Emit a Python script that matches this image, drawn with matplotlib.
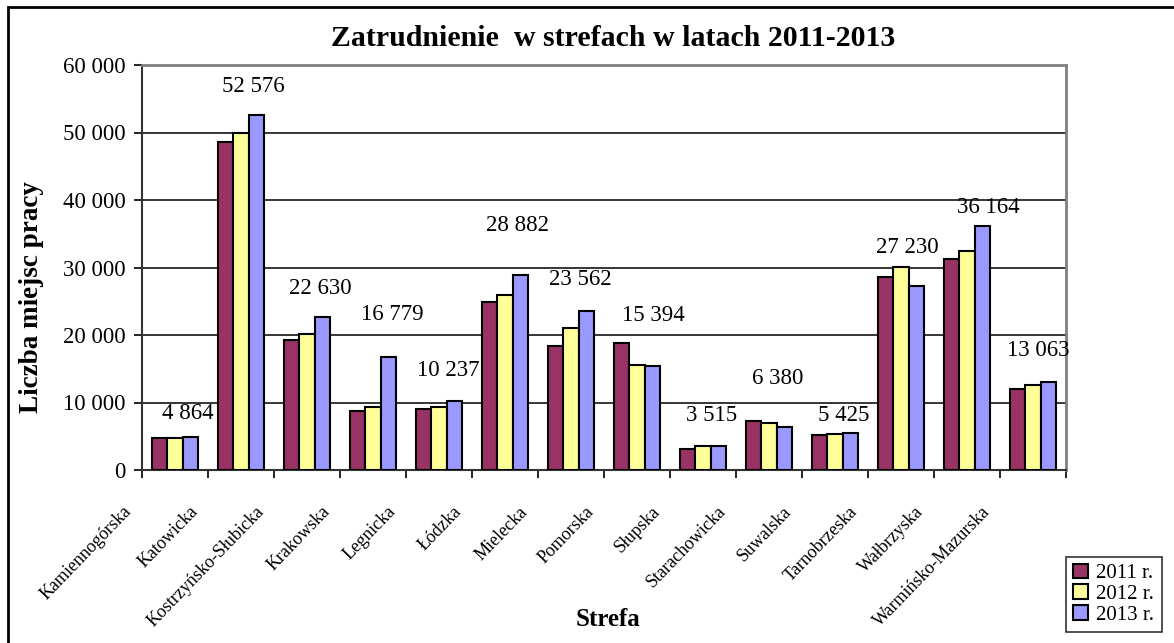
import numpy as np
import matplotlib
matplotlib.use("Agg")
import matplotlib.pyplot as plt
from matplotlib.ticker import FuncFormatter, FixedLocator
import matplotlib.transforms as mtransforms

plt.rcParams['font.family'] = ['Liberation Serif', 'DejaVu Serif']

strefy = ["Kamiennogórska", "Katowicka", "Kostrzyńsko-Słubicka", "Krakowska",
          "Legnicka", "Łódzka", "Mielecka", "Pomorska", "Słupska",
          "Starachowicka", "Suwalska", "Tarnobrzeska", "Wałbrzyska",
          "Warmińsko-Mazurska"]
y2011 = [4700, 48600, 19300, 8800, 9100, 24850, 18300, 18870, 3150, 7290,
         5250, 28620, 31280, 12070]
y2012 = [4750, 50000, 20100, 9400, 9400, 26000, 21000, 15570, 3550, 7000,
         5300, 30100, 32460, 12610]
y2013 = [4864, 52576, 22630, 16779, 10237, 28882, 23562, 15394, 3515, 6380,
         5425, 27230, 36164, 13063]
lata = ["2011 r.", "2012 r.", "2013 r."]
kolory = ["#993366", "#FFFF99", "#9999FF"]

# label offsets (pixels) as placed in the original chart
label_dx = [13, 12, 13, 19, 9, 12, 9, 16, 9, 9, 9, 6, 21, 5]
label_dy = [24, 29, 29, 42, 30, 50, 31, 51, 31, 48, 18, 39, 18, 31]

fig = plt.figure(figsize=(11.74, 6.43), dpi=100)
ax = fig.add_axes([142 / 1174, 1 - 470 / 643, 924 / 1174, 405 / 643])

x = np.arange(len(strefy))
w = 0.235
for i, (vals, c, lab) in enumerate(zip([y2011, y2012, y2013], kolory, lata)):
    ax.bar(x + (i - 1) * w, vals, w, color=c, edgecolor="black",
           linewidth=1.5, label=lab, zorder=3)

for xi, v, dx, dy in zip(x, y2013, label_dx, label_dy):
    ax.annotate(f"{v:,}".replace(",", " "), (xi, v), xytext=(dx, dy),
                textcoords="offset pixels", ha="center", va="center",
                fontsize=16.5, zorder=4)

ax.set_xlim(-0.5, len(strefy) - 0.5)
ax.set_ylim(0, 60000)
ax.set_yticks(np.arange(0, 60001, 10000))
ax.yaxis.set_major_formatter(FuncFormatter(lambda v, p: f"{int(v):,}".replace(",", " ")))
ax.tick_params(axis="y", labelsize=16.5, length=6, width=1.2, direction="out", pad=6)
ax.grid(axis="y", color="black", linewidth=1.1, zorder=0)

ax.set_xticks(x)
ax.set_xticklabels(strefy, rotation=46, ha="right", va="center",
                   rotation_mode="anchor", fontsize=13)
ax.xaxis.set_minor_locator(FixedLocator(np.arange(-0.5, len(strefy), 1)))
ax.tick_params(axis="x", which="major", length=0, pad=0)
ax.tick_params(axis="x", which="minor", length=6, width=1.2, direction="out")
off = mtransforms.ScaledTranslation(-46 / 100, -39 / 100, fig.dpi_scale_trans)
for t in ax.get_xticklabels():
    t.set_transform(t.get_transform() + off)

for s in ["top", "right"]:
    ax.spines[s].set_color("#808080")
    ax.spines[s].set_linewidth(2)
for s in ["left", "bottom"]:
    ax.spines[s].set_color("#333333")
    ax.spines[s].set_linewidth(1.5)

fig.text(613 / 1174, 1 - 38 / 643, "Zatrudnienie  w strefach w latach 2011-2013",
         ha="center", va="center", fontsize=21.5, fontweight="bold")
fig.text(32 / 1174, 1 - 297 / 643, "Liczba miejsc pracy", rotation=90,
         ha="center", va="center", fontsize=19.5, fontweight="bold")
fig.text(608 / 1174, 1 - 620 / 643, "Strefa", ha="center", va="center",
         fontsize=18, fontweight="bold")

leg = ax.legend(loc="lower left", bbox_to_anchor=(1066 / 1174, 1 - 632 / 643),
                bbox_transform=fig.transFigure, fontsize=15, frameon=True,
                fancybox=False, edgecolor="black", handlelength=0.7,
                handleheight=0.7, handletextpad=0.4, labelspacing=0.05,
                borderpad=0.35, borderaxespad=0)
leg.get_frame().set_linewidth(1.2)

fig.patches.append(plt.Rectangle((8 / 1174, -0.05), 1.1, 1 - 7 / 643 + 0.05,
                                 transform=fig.transFigure, fill=False,
                                 edgecolor="black", linewidth=2))

fig.savefig("out.png", dpi=100)
